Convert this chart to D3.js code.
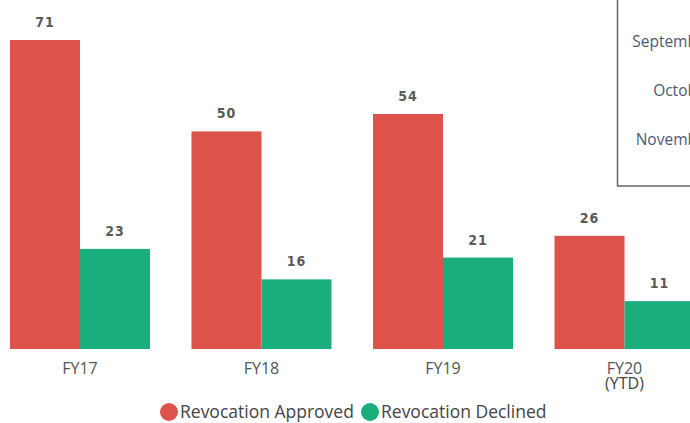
<!DOCTYPE html>
<html>
<head>
<meta charset="utf-8">
<script src="https://cdnjs.cloudflare.com/ajax/libs/d3/7.8.5/d3.min.js"></script>
<style>
    body { margin: 0; background: #fff; }
    svg { display: block; }
</style>
</head>
<body>
<div id="chart"></div>
<script>
// chart data
var categories = ['FY17', 'FY18', 'FY19', 'FY20'],
    subLabels = ['', '', '', '(YTD)'],
    approved = [71, 50, 54, 26],
    declined = [23, 16, 21, 11],
    seriesNames = ['Revocation Approved', 'Revocation Declined'],
    boxMonths = ['September', 'October', 'November'];

var WIDTH = 690,
    HEIGHT = 423,
    BASELINE = 349,
    TOP = 40,
    COLORS = ['#dd534b', '#1bae7d'];

var svg = d3.select('#chart').append('svg')
    .attr('width', WIDTH)
    .attr('height', HEIGHT);

var x = d3.scaleBand()
    .domain(categories)
    .range([-10.75, 715.25])
    .paddingInner(0.2287)
    .paddingOuter(0.1143);

var xSub = d3.scaleBand()
    .domain([0, 1])
    .range([0, x.bandwidth()]);

var y = d3.scaleLinear()
    .domain([0, d3.max(approved)])
    .range([BASELINE, TOP]);

var rows = categories.map((c, i) => ({
    cat: c,
    values: [approved[i], declined[i]]
}));

var groups = svg.selectAll('g.group')
    .data(rows)
    .enter().append('g')
    .attr('class', 'group')
    .attr('transform', d => `translate(${x(d.cat)},0)`);

groups.selectAll('rect')
    .data(d => d.values)
    .enter().append('rect')
    .attr('x', (v, i) => xSub(i))
    .attr('width', xSub.bandwidth())
    .attr('y', v => y(v))
    .attr('height', v => BASELINE - y(v))
    .attr('fill', (v, i) => COLORS[i]);

// value labels above the bars
groups.selectAll('text.val')
    .data(d => d.values)
    .enter().append('text')
    .attr('class', 'val')
    .attr('x', (v, i) => xSub(i) + xSub.bandwidth() / 2)
    .attr('y', v => y(v) - 13)
    .attr('text-anchor', 'middle')
    .attr('font-family', '"DejaVu Sans Condensed", "DejaVu Sans", sans-serif')
    .attr('font-weight', 'bold')
    .attr('font-size', 14)
    .attr('letter-spacing', 1)
    .attr('fill', '#5a5a5a')
    .text(v => v);

// category axis; the sub label goes in a second line of the same text
var xAxis = d3.axisBottom(x).tickSize(0).tickPadding(0);
var axisG = svg.append('g')
    .attr('transform', `translate(0,${BASELINE})`)
    .call(xAxis);
axisG.select('.domain').remove();
axisG.selectAll('text')
    .attr('y', 25)
    .attr('dy', 0)
    .attr('font-family', '"Open Sans", sans-serif')
    .attr('font-size', 16)
    .attr('fill', '#555')
    .each(function(d, i) {
        if (!subLabels[i]) return;
        d3.select(this).append('tspan')
            .attr('x', 0)
            .attr('dy', 15)
            .attr('fill', '#444')
            .text(subLabels[i]);
    });

// legend
var legend = svg.append('g')
    .attr('font-family', '"Open Sans", sans-serif')
    .attr('font-size', 17.5)
    .attr('fill', '#444');
var legendX = [169, 370];
seriesNames.forEach((name, i) => {
    legend.append('circle')
        .attr('cx', legendX[i])
        .attr('cy', 412)
        .attr('r', 9)
        .attr('fill', COLORS[i]);
    legend.append('text')
        .attr('x', legendX[i] + 11)
        .attr('y', 418)
        .text(name);
});

// month box, cut off at the right edge
var box = svg.append('g');
box.append('rect')
    .attr('x', 617.5)
    .attr('y', -20)
    .attr('width', 120)
    .attr('height', 206)
    .attr('fill', '#fff')
    .attr('stroke', '#666')
    .attr('stroke-width', 1.5);
box.selectAll('text')
    .data(boxMonths)
    .enter().append('text')
    .attr('x', 712)
    .attr('y', (d, i) => 47 + i * 49)
    .attr('text-anchor', 'end')
    .attr('font-family', '"Open Sans", sans-serif')
    .attr('font-size', 15.5)
    .attr('fill', '#4d5872')
    .text(d => d);
</script>
</body>
</html>
